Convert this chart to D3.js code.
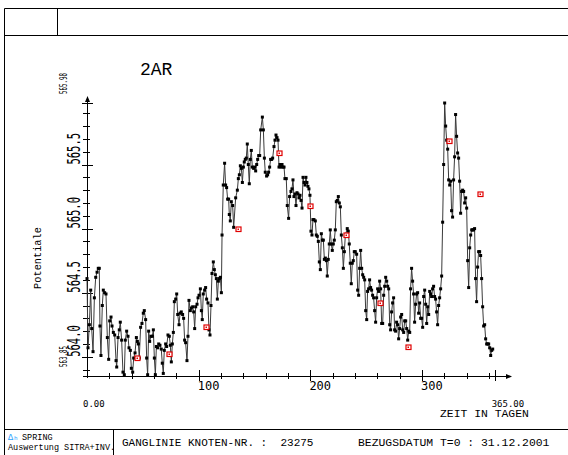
<!DOCTYPE html>
<html><head><meta charset="utf-8">
<script src="https://cdn.jsdelivr.net/npm/d3@7"></script>
<style>body{margin:0;background:#fff}svg{display:block}</style>
</head><body>
<svg id="chart" width="568" height="455"></svg>
<script>
// ---- data ----
const days = [
0.0,0.9,2.1,3.3,4.2,5.4,6.6,7.8,9.0,10.1,
11.0,11.6,12.5,13.7,14.6,15.8,17.0,18.2,19.4,20.3,
21.5,22.4,23.6,24.8,26.0,26.6,27.8,28.9,29.8,31.0,
32.2,33.4,34.3,35.5,36.7,37.6,38.8,39.7,40.9,41.8,
43.0,44.2,45.1,46.0,46.8,48.0,49.2,50.4,51.3,52.5,
53.4,54.3,55.2,56.1,57.3,58.5,59.4,60.3,61.2,62.1,
63.3,64.2,65.3,66.5,67.4,68.3,69.2,70.4,71.3,72.5,
73.7,74.6,75.5,76.4,77.3,78.2,79.4,80.3,81.2,82.4,
83.3,84.4,85.6,86.5,87.4,88.3,89.5,90.4,91.3,92.5,
93.4,94.6,95.5,96.4,97.3,98.5,99.4,100.3,101.5,102.4,
103.2,104.1,105.3,106.2,107.1,108.3,109.2,110.1,111.0,111.9,
113.1,114.0,114.9,115.8,116.7,117.6,118.5,119.4,120.3,120.9,
122.0,123.2,124.1,125.0,125.9,126.8,127.4,128.3,129.2,130.4,
131.3,133.1,134.6,135.5,136.4,137.3,138.2,139.1,140.0,140.8,
141.7,142.6,143.5,144.4,145.3,146.2,147.1,148.0,149.2,150.1,
151.0,151.9,152.8,153.7,154.6,155.5,157.0,157.9,158.8,159.6,
160.8,161.7,162.6,163.5,164.4,165.3,166.2,167.4,168.3,169.2,
170.1,171.0,171.9,172.8,173.7,174.6,175.5,176.4,177.2,178.4,
179.3,180.5,181.4,182.6,183.5,184.4,185.3,186.2,187.1,188.0,
188.9,189.8,190.7,191.6,192.5,193.4,194.3,195.2,196.0,196.9,
197.8,198.7,199.6,200.5,201.4,202.3,203.2,204.4,205.3,206.2,
207.1,208.0,208.9,209.8,210.7,211.6,212.5,213.4,214.3,215.1,
216.0,216.9,217.8,218.7,219.6,220.5,221.4,222.3,223.2,224.1,
225.0,225.9,226.8,227.7,228.6,229.5,230.4,231.3,233.0,233.9,
234.8,235.7,236.6,237.5,238.4,239.3,240.2,241.4,242.3,243.2,
244.1,245.0,245.9,246.8,247.7,248.6,249.5,250.4,251.2,252.1,
253.0,253.9,254.8,255.7,256.6,257.5,258.4,259.3,260.2,261.1,
262.0,262.9,263.8,264.7,265.6,266.5,267.4,268.3,269.2,270.1,
271.0,271.8,272.7,273.6,274.5,275.4,276.3,277.2,278.1,279.0,
279.9,280.8,281.7,282.6,283.5,284.4,285.3,286.2,287.1,288.0,
288.9,289.7,290.6,291.5,292.4,293.3,294.2,295.1,296.0,296.9,
297.8,298.7,299.6,300.5,301.4,302.3,303.2,304.1,305.0,305.9,
306.8,307.7,308.5,309.4,310.3,311.2,312.1,313.0,313.9,314.8,
315.7,316.6,317.5,318.4,319.3,320.2,321.1,322.0,322.9,323.8,
324.7,325.6,326.4,327.3,328.2,329.1,330.0,330.9,331.8,332.7,
333.6,334.5,335.4,336.3,337.2,338.1,339.0,339.9,340.8,341.7,
342.6,343.5,344.4,345.2,346.1,347.0,347.9,348.8,349.7,350.6,
351.5,352.4,353.3,354.2,355.1,356.0,356.9,357.8,358.7,359.6,
360.5,361.4,362.3,363.2];

const potential = [
564.61,564.07,564.25,564.52,564.22,564.04,564.46,564.62,564.66,564.69,
564.69,564.24,564.01,564.40,564.52,564.50,564.49,564.15,563.98,564.28,
564.31,564.24,564.19,564.17,563.97,563.92,564.15,564.21,564.27,564.13,
563.88,563.86,564.13,564.20,564.16,564.07,564.05,563.91,563.88,563.99,
564.03,564.15,564.12,564.10,563.99,564.23,564.26,564.34,564.36,564.29,
563.99,563.86,564.20,564.12,564.16,564.16,564.21,563.99,563.86,564.08,
564.07,564.10,564.09,564.06,563.95,563.87,564.05,564.10,564.08,564.17,
564.16,564.09,563.96,564.10,564.19,564.43,564.45,564.49,564.33,564.25,
564.34,564.35,564.33,564.30,564.13,564.11,563.97,564.16,564.44,564.36,
564.38,564.39,564.35,564.22,564.39,564.41,564.46,564.48,564.53,564.36,
564.29,564.49,564.52,564.54,564.45,564.42,564.21,564.17,564.40,564.65,
564.74,564.68,564.64,564.61,564.45,564.59,564.61,564.62,564.50,564.95,
565.34,565.51,565.34,565.32,565.23,565.23,565.11,565.06,565.21,565.18,
565.01,565.24,565.30,565.39,565.42,565.49,565.47,565.36,565.48,565.52,
565.54,565.55,565.66,565.50,565.35,565.54,565.61,565.48,565.47,565.48,
565.45,565.50,565.54,565.57,565.57,565.77,565.87,565.77,565.55,565.44,
565.41,565.42,565.44,565.48,565.54,565.54,565.55,565.64,565.69,565.73,
565.71,565.69,565.48,565.50,565.48,565.50,565.48,565.48,565.39,565.39,
565.18,565.08,565.25,565.29,565.31,565.38,565.25,565.27,565.18,565.28,
565.27,565.24,565.26,565.22,565.16,565.40,565.36,565.34,565.40,565.36,
565.33,565.31,565.26,564.98,564.95,565.07,565.07,565.06,564.95,564.94,
564.90,564.74,564.68,564.96,564.91,564.91,564.76,564.77,564.75,564.63,
564.76,564.88,564.99,564.88,564.83,564.88,564.91,564.99,565.21,565.22,
565.25,565.20,565.17,564.95,564.85,564.69,564.82,564.95,565.00,564.98,
564.88,564.73,564.57,564.73,564.75,564.82,564.82,564.80,564.52,564.48,
564.69,564.83,564.69,564.64,564.62,564.60,564.36,564.29,564.51,564.53,
564.60,564.54,564.52,564.48,564.46,564.36,564.27,564.46,564.53,564.51,
564.59,564.53,564.26,564.26,564.48,564.55,564.62,564.59,564.55,564.53,
564.25,564.21,564.35,564.42,564.46,564.21,564.20,564.27,564.25,564.14,
564.22,564.31,564.33,564.21,564.19,564.28,564.28,564.22,564.13,564.20,
564.19,564.53,564.69,564.59,564.49,564.27,564.41,564.49,564.50,564.34,
564.42,564.30,564.30,564.23,564.47,564.52,564.41,564.26,564.39,564.33,
564.51,564.49,564.47,564.53,564.55,564.47,564.45,564.35,564.25,564.40,
564.46,564.53,564.63,565.05,565.50,565.98,565.80,565.69,565.62,565.38,
565.34,565.37,565.14,565.09,565.38,565.56,565.89,565.72,565.59,565.55,
565.37,565.12,565.29,565.30,565.29,565.20,565.24,565.16,564.75,564.54,
564.85,564.95,564.99,564.99,564.99,565.00,564.61,564.43,564.70,564.82,
564.82,564.79,564.61,564.39,564.24,564.25,564.14,564.10,564.10,564.10,
564.07,564.01,564.05,564.06];

// measured (red) points
const obsDays   = [45.1, 73.4, 106.8, 135.2, 171.9, 199.6, 232.2, 262.0, 287.7, 324.1, 351.8];
const obsValues = [563.99, 564.02, 564.23, 565.00, 565.59, 565.18, 564.95, 564.42, 564.08, 565.68, 565.27];

const xDomain = [0, 365];
const yDomain = [563.85, 565.98];
const xLabelTicks = [100, 200, 300];
const xMinorStep = 20;
const yLabelTicks = [564.0, 564.5, 565.0, 565.5];
const yMinorStep = 0.1;

const title = "2AR";
const yTitle = "Potentiale";
const xTitle = "ZEIT IN TAGEN";

// ---- drawing ----
const svg = d3.select("#chart");
const x = d3.scaleLinear().domain(xDomain).range([87, 494.7]);
const y = d3.scaleLinear().domain(yDomain).range([376, 103]);
const mono = "'DejaVu Sans Mono', monospace";
const courier = "'Liberation Mono', 'DejaVu Sans Mono', monospace";

// frame
const frame = svg.append("g").attr("stroke", "#000").attr("stroke-width", 1).attr("fill", "none");
frame.append("line").attr("x1", 4.5).attr("x2", 568).attr("y1", 8.5).attr("y2", 8.5);
frame.append("line").attr("x1", 4.5).attr("x2", 4.5).attr("y1", 8.5).attr("y2", 455);
frame.append("line").attr("x1", 4.5).attr("x2", 568).attr("y1", 35.5).attr("y2", 35.5);
frame.append("line").attr("x1", 57.5).attr("x2", 57.5).attr("y1", 8.5).attr("y2", 35.5);
frame.append("line").attr("x1", 4.5).attr("x2", 568).attr("y1", 429.5).attr("y2", 429.5);
frame.append("line").attr("x1", 113.5).attr("x2", 113.5).attr("y1", 429.5).attr("y2", 455);

// title
svg.append("text").attr("x", 140).attr("y", 75).attr("font-family", courier)
  .attr("font-size", 18).attr("fill", "#000").text(title);

// axes
const ax = svg.append("g").attr("stroke", "#000").attr("stroke-width", 1);
const x0 = x(0), yb = y(yDomain[0]);
ax.append("line").attr("x1", x0 + 0.5).attr("x2", x0 + 0.5).attr("y1", yb + 2).attr("y2", 98);
ax.append("line").attr("x1", 83).attr("x2", 510).attr("y1", yb + 0.5).attr("y2", yb + 0.5);
svg.append("path").attr("d", `M${x0 + 0.5},96 L${x0 - 2},102 L${x0 + 3},102 Z`).attr("fill", "#000");
svg.append("path").attr("d", `M512,${yb + 0.5} L506,${yb - 2} L506,${yb + 3} Z`).attr("fill", "#000");

// y ticks
const yMinor = d3.range(Math.ceil(yDomain[0] / yMinorStep), Math.floor(yDomain[1] / yMinorStep) + 1)
  .map(k => +(k * yMinorStep).toFixed(2));
const isMajorY = v => yLabelTicks.some(t => Math.abs(t - v) < 1e-6);
ax.selectAll(".ytick").data(yMinor).join("line")
  .attr("x1", d => isMajorY(d) ? x0 - 5 : x0 - 4)
  .attr("x2", d => isMajorY(d) ? x0 + 6 : x0 + 3)
  .attr("y1", d => Math.round(y(d)) + 0.5).attr("y2", d => Math.round(y(d)) + 0.5);
ax.append("line").attr("x1", x0 - 5).attr("x2", x0 + 6)
  .attr("y1", Math.round(y(yDomain[1])) + 0.5).attr("y2", Math.round(y(yDomain[1])) + 0.5);

svg.selectAll(".ylab").data(yLabelTicks).join("text")
  .attr("transform", d => `translate(80,${y(d)}) rotate(-90) scale(1,1.75)`)
  .attr("font-family", mono).attr("font-size", 10.5).attr("fill", "#000")
  .text(d => d.toFixed(1));
svg.selectAll(".yend").data(yDomain).join("text")
  .attr("transform", d => `translate(67,${y(d) - 9}) rotate(-90) scale(1,1.7)`)
  .attr("font-family", mono).attr("font-size", 5.8).attr("fill", "#000")
  .text(d => d.toFixed(2));

// x ticks
const xMinor = d3.range(xMinorStep, xDomain[1], xMinorStep);
ax.selectAll(".xtick").data(xMinor).join("line")
  .attr("x1", d => Math.round(x(d)) + 0.5).attr("x2", d => Math.round(x(d)) + 0.5)
  .attr("y1", d => xLabelTicks.includes(d) ? yb - 6 : yb - 3)
  .attr("y2", d => xLabelTicks.includes(d) ? yb + 5 : yb + 3);
ax.append("line").attr("x1", Math.round(x(xDomain[1])) + 0.5).attr("x2", Math.round(x(xDomain[1])) + 0.5)
  .attr("y1", yb - 6).attr("y2", yb + 5);

svg.selectAll(".xlab").data(xLabelTicks).join("text")
  .attr("x", d => x(d) - 1).attr("y", 389.5)
  .attr("font-family", mono).attr("font-size", 12).attr("fill", "#000")
  .text(d => d);
svg.append("text").attr("x", x(xDomain[0]) - 4).attr("y", 406.5)
  .attr("font-family", mono).attr("font-size", 9).attr("fill", "#000").text(xDomain[0].toFixed(2));
svg.append("text").attr("x", x(xDomain[1]) - 3).attr("y", 406.5)
  .attr("font-family", mono).attr("font-size", 9).attr("fill", "#000").text(xDomain[1].toFixed(2));
svg.append("text").attr("x", 440).attr("y", 416.5)
  .attr("font-family", courier).attr("font-size", 11.4).attr("fill", "#000").text(xTitle);

svg.append("text").attr("transform", "translate(41,258) rotate(-90)").attr("text-anchor", "middle")
  .attr("font-family", courier).attr("font-size", 10.3).attr("fill", "#000").text(yTitle);

// series
const series = d3.zip(days, potential);
svg.append("path").datum(series)
  .attr("d", d3.line().x(d => x(d[0])).y(d => y(d[1])))
  .attr("fill", "none").attr("stroke", "#3a3a3a").attr("stroke-width", 1);
svg.selectAll(".pt").data(series).join("rect")
  .attr("x", d => x(d[0]) - 1.5).attr("y", d => y(d[1]) - 1.5)
  .attr("width", 3).attr("height", 3).attr("fill", "#000");

const obs = d3.zip(obsDays, obsValues);
const og = svg.selectAll(".obs").data(obs).join("g")
  .attr("transform", d => `translate(${Math.round(x(d[0]))},${Math.round(y(d[1]))})`);
og.append("rect").attr("x", -2).attr("y", -2).attr("width", 5).attr("height", 4.5)
  .attr("fill", "#fff").attr("stroke", "#e00000").attr("stroke-width", 1.2);
og.append("rect").attr("x", -0.5).attr("y", -0.5).attr("width", 1.5).attr("height", 1.5).attr("fill", "#e00000");

// footer
svg.append("text").attr("x", 8).attr("y", 440).attr("font-family", courier).attr("font-size", 8.5)
  .attr("fill", "#29a3ff").text("Δ");
svg.append("text").attr("x", 14).attr("y", 440).attr("font-family", courier).attr("font-size", 6)
  .attr("fill", "#29a3ff").text("h");
svg.append("text").attr("x", 22).attr("y", 440).attr("font-family", courier).attr("font-size", 8.5)
  .attr("fill", "#000").text("SPRING");
svg.append("text").attr("x", 8).attr("y", 450).attr("font-family", courier).attr("font-size", 8.5)
  .attr("fill", "#000").text("Auswertung SITRA+INV.");
svg.append("text").attr("x", 122).attr("y", 446).attr("font-family", courier).attr("font-size", 11)
  .attr("fill", "#000").style("white-space", "pre")
  .text("GANGLINIE KNOTEN-NR. :  23275");
svg.append("text").attr("x", 358).attr("y", 446).attr("font-family", courier).attr("font-size", 11.4)
  .attr("fill", "#000").style("white-space", "pre")
  .text("BEZUGSDATUM T=0 : 31.12.2001");
</script>
</body></html>
